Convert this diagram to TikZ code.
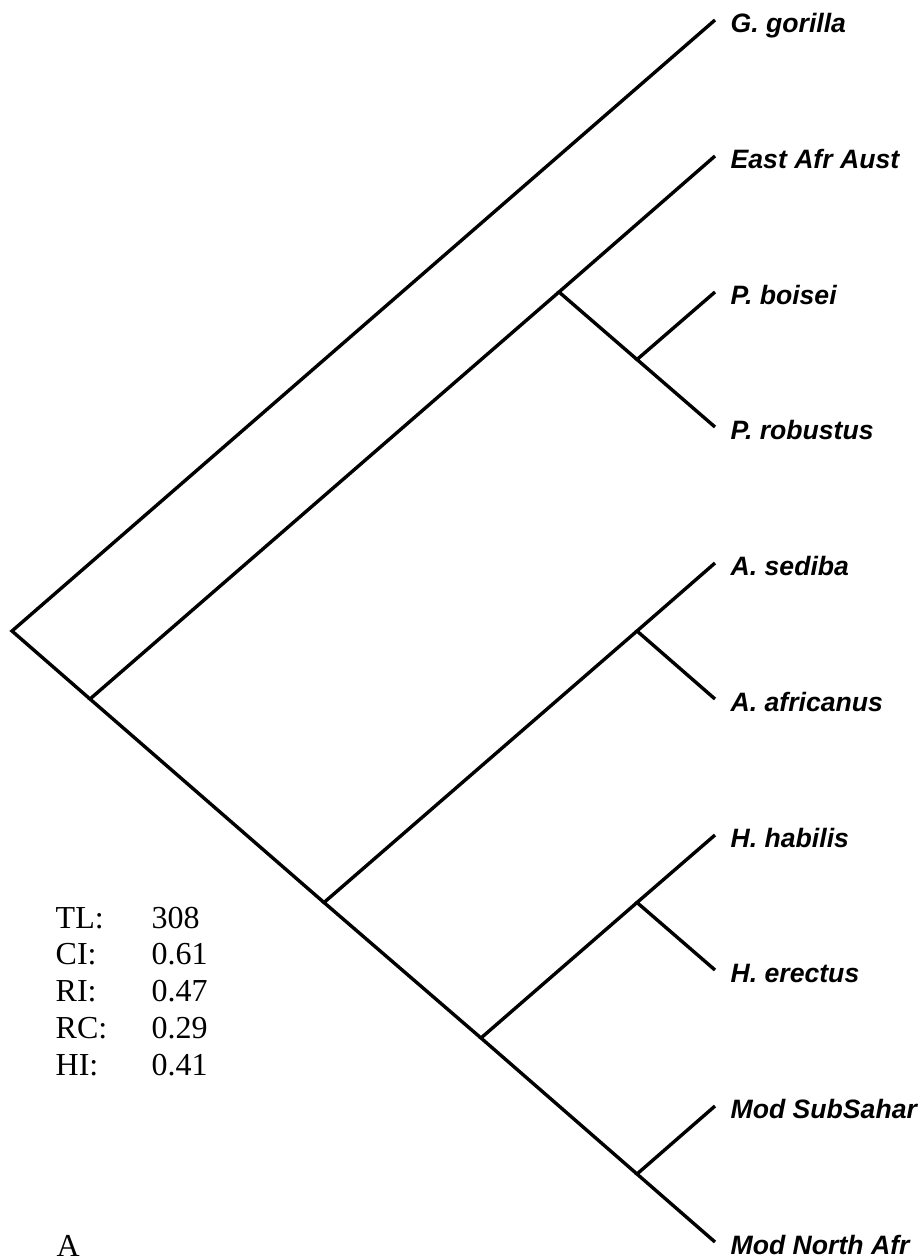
\documentclass[tikz,border=0pt]{standalone}
\usepackage{fontspec}
\setmainfont{Liberation Serif}
\setsansfont{Liberation Sans}
\usepackage{tikz}

\begin{document}
\begin{tikzpicture}[x=0.5pt, y=-0.5pt, line width=1.7pt,
  taxon/.style={anchor=base west, inner sep=0pt, xshift=7pt, yshift=-6pt,
    font=\sffamily\bfseries\itshape\fontsize{13.3}{15}\selectfont},
  stat/.style={anchor=base west, inner sep=0pt, font=\fontsize{16}{18}\selectfont}]
  \useasboundingbox (0,0) rectangle (922,1259);
  % tips
  \coordinate (gorilla)   at (715,20);
  \coordinate (eaa)       at (715,156);
  \coordinate (boisei)    at (715,292);
  \coordinate (robustus)  at (715,427);
  \coordinate (sediba)    at (715,563);
  \coordinate (africanus) at (715,699);
  \coordinate (habilis)   at (715,835);
  \coordinate (erectus)   at (715,970);
  \coordinate (subsah)    at (715,1106);
  \coordinate (northafr)  at (715,1242);
  % internal nodes
  \coordinate (root) at (12,631);
  \coordinate (n1)   at (90,699);
  \coordinate (nP)   at (559,292);
  \coordinate (nPP)  at (637,359.5);
  \coordinate (nS)   at (324,902.5);
  \coordinate (nSA)  at (637,631);
  \coordinate (nH)   at (481,1038);
  \coordinate (nHE)  at (637,902.5);
  \coordinate (nM)   at (637,1174);

  \draw (gorilla) -- (root) -- (n1);
  \draw (nP) -- (n1) -- (nS);
  \draw (eaa) -- (nP) -- (nPP);
  \draw (boisei) -- (nPP) -- (robustus);
  \draw (nSA) -- (nS) -- (nH);
  \draw (sediba) -- (nSA) -- (africanus);
  \draw (nHE) -- (nH) -- (nM);
  \draw (habilis) -- (nHE) -- (erectus);
  \draw (subsah) -- (nM) -- (northafr);

  \node[taxon] (gorillalbl)   at (gorilla)   {G. gorilla};
  \node[taxon] (eaalbl)       at (eaa)       {East Afr Aust};
  \node[taxon] (boiseilbl)    at (boisei)    {P. boisei};
  \node[taxon] (robustuslbl)  at (robustus)  {P. robustus};
  \node[taxon] (sedibalbl)    at (sediba)    {A. sediba};
  \node[taxon] (africanuslbl) at (africanus) {A. africanus};
  \node[taxon] (habilislbl)   at (habilis)   {H. habilis};
  \node[taxon] (erectuslbl)   at (erectus)   {H. erectus};
  \node[taxon] (subsahlbl)    at (subsah)    {Mod SubSahar};
  \node[taxon] (northafrlbl)  at (northafr)  {Mod North Afr};

  % tree statistics
  \node[stat] (tl)  at (54,928)    {TL:};   \node[stat] (tlv) at (150,928)    {308};
  \node[stat] (ci)  at (54,964.8)  {CI:};   \node[stat] (civ) at (150,964.8)  {0.61};
  \node[stat] (ri)  at (54,1001.6) {RI:};   \node[stat] (riv) at (150,1001.6) {0.47};
  \node[stat] (rc)  at (54,1038.4) {RC:};   \node[stat] (rcv) at (150,1038.4) {0.29};
  \node[stat] (hi)  at (54,1075.2) {HI:};   \node[stat] (hiv) at (150,1075.2) {0.41};
  \node[stat] (panel) at (55,1256) {A};
\end{tikzpicture}
\end{document}
